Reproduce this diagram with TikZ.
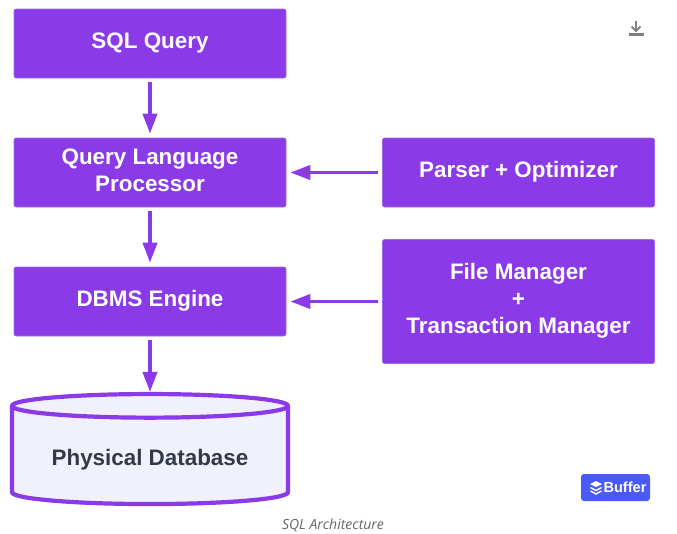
\documentclass[tikz,border=0pt]{standalone}
\usepackage{fontspec}
\setmainfont{Liberation Sans}
\newfontfamily\capfont{Open Sans}
\usetikzlibrary{arrows.meta,shapes.geometric}
\definecolor{procfill}{HTML}{8A3AE6}
\definecolor{procline}{HTML}{9A6CE8}
\definecolor{dbfill}{HTML}{F1F1FD}
\definecolor{dbtext}{HTML}{333A45}
\definecolor{badge}{HTML}{4A5AF8}
\tikzset{
  proc/.style={rectangle,draw=procline,fill=procfill,text=white,rounded corners=2pt,line width=.6pt,
    minimum width=272pt,align=center,inner sep=0pt,font=\fontsize{22.4}{27}\selectfont\bfseries},
  flow/.style={draw=procfill,line width=3.8pt,-{Triangle[length=20pt,width=14pt]},shorten >=4pt,shorten <=4pt},
}
\begin{document}
\begin{tikzpicture}[x=1pt,y=-1pt]
\useasboundingbox (0,0) rectangle (677,533);
\node[proc,minimum height=69pt] (n1) at (150,43.5) {SQL Query\\[-22pt]};
\node[proc,minimum height=69pt] (n2) at (150,172.5) {Query Language\\Processor\\[-22pt]};
\node[proc,minimum height=69pt] (n3) at (150,301.5) {DBMS Engine\\[-20pt]};
\node[proc,minimum height=69pt] (n4) at (518.5,172.5) {Parser + Optimizer\\[-20pt]};
\node[proc,minimum height=124pt] (n5) at (518.5,301.5) {File Manager\\+\\Transaction Manager\\[-20pt]};
\node[cylinder,shape border rotate=90,draw=procfill,line width=4.2pt,aspect=.12,
  cylinder uses custom fill,cylinder body fill=dbfill,cylinder end fill=dbfill,
  minimum width=276pt,minimum height=110pt,inner sep=0pt,text=dbtext,align=center,
  font=\fontsize{22.4}{27}\selectfont\bfseries] (n6) at (150,456) {\mbox{}\\[-4pt]Physical Database};
\draw[flow] (n1) -- (n2);
\draw[flow] (n2) -- (n3);
\draw[flow,shorten >=0pt] (n3) -- (n6.north);
\draw[flow] (n4) -- (n2);
\draw[flow] (n5) -- (n3);
% buffer badge
\node[rectangle,fill=badge,rounded corners=3pt,minimum width=69pt,minimum height=27pt] (n8) at (615.5,487.5) {};
\node[text=white,inner sep=0pt,font=\fontsize{14.6}{18}\selectfont\bfseries] (n9) at (625,487.5) {Buffer};
\fill[white] (596,481) -- (602,484) -- (596,487) -- (590,484) -- cycle;
\draw[white,line width=1.4pt] (590.5,487.5) -- (596,490.5) -- (601.5,487.5);
\draw[white,line width=1.4pt] (590.5,491) -- (596,494) -- (601.5,491);
% download icon
\draw[gray,line width=2pt] (636,21) -- (636,31);
\draw[gray,line width=2pt] (631.5,26.5) -- (636,31) -- (640.5,26.5);
\draw[gray,line width=2.4pt] (629,34.5) -- (644,34.5);
\node[text=black!60,font=\fontsize{14}{16}\capfont\itshape] (n10) at (333,525) {SQL Architecture};
\end{tikzpicture}
\end{document}
